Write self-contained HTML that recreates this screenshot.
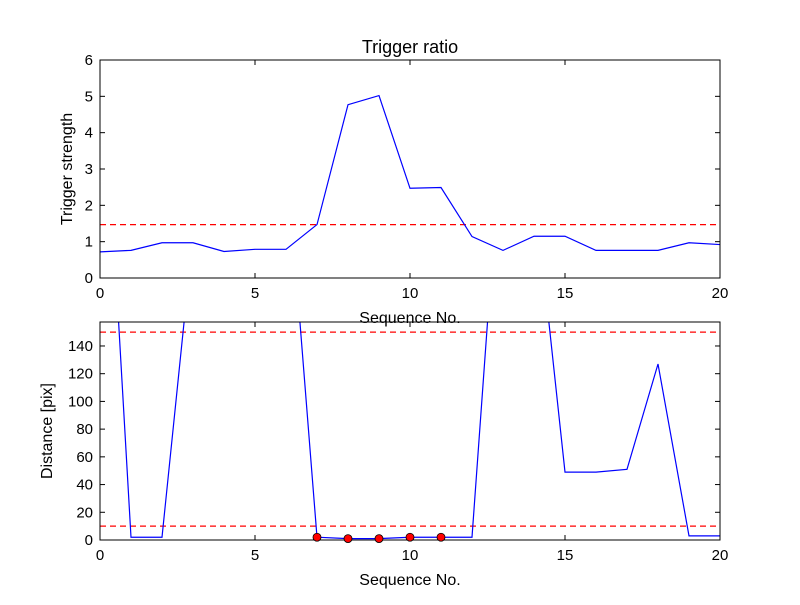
<!DOCTYPE html>
<html><head><meta charset="utf-8"><style>
body{margin:0;background:#fff}
svg text{font-family:"Liberation Sans","DejaVu Sans",sans-serif;fill:#000}
</style></head><body>
<svg id="fig" width="800" height="600" xmlns="http://www.w3.org/2000/svg">
<defs>
<clipPath id="c1"><rect x="100" y="60" width="620" height="218"/></clipPath>
<clipPath id="c2"><rect x="100" y="322" width="620" height="218"/></clipPath>
</defs>
<rect width="800" height="600" fill="#fff"/>
<g id="g1"></g><g id="g2"></g>
</svg>
<script>
const seqX = [0,1,2,3,4,5,6,7,8,9,10,11,12,13,14,15,16,17,18,19,20];
const strength = [0.72,0.76,0.97,0.97,0.73,0.79,0.79,1.47,4.77,5.02,2.47,2.49,1.14,0.76,1.15,1.15,0.76,0.76,0.76,0.97,0.92];
const strengthThreshold = 1.47;
const distance = [390,2,2,220,300,300,284,2,1,1,2,2,2,312,257,49,49,51,127,3,3];
const distThresholds = [10,150];
const hitX = [7,8,9,10,11];
const hitY = [2,1,1,2,2];
const xTicks = [0,5,10,15,20];
const yTicks1 = [0,1,2,3,4,5,6];
const yTicks2 = [0,20,40,60,80,100,120,140];

const NS="http://www.w3.org/2000/svg";
function mk(p,t,a){const e=document.createElementNS(NS,t);for(const k in a)e.setAttribute(k,a[k]);p.appendChild(e);return e;}
function axes(g,top,ymax,yTicks,ys,thr,clip,ylabel,name){
  const L=100,R=720,B=top+218;
  const sx=v=>L+(v-0)/20*620, sy=v=>B-v/ymax*218;
  // threshold lines
  thr.forEach(t=>{const l=mk(g,'line',{x1:L,x2:R,y1:sy(t),y2:sy(t),stroke:'#f00','stroke-width':1.3,'stroke-dasharray':'6,4','clip-path':clip});
    
    });
  const pts=seqX.map((x,i)=>sx(x)+','+sy(ys[i])).join(' ');
  const pl=mk(g,'polyline',{points:pts,fill:'none',stroke:'#00f','stroke-width':1.2,'clip-path':clip});
  
  
  const fr=mk(g,'rect',{x:L,y:top,width:620,height:218,fill:'none',stroke:'#000','stroke-width':1});
  
  
  xTicks.forEach(v=>{const x=sx(v);
    mk(g,'line',{x1:x,x2:x,y1:B,y2:B-5,stroke:'#000'});mk(g,'line',{x1:x,x2:x,y1:top,y2:top+5,stroke:'#000'});
    const t=mk(g,'text',{x:x,y:B+20,'text-anchor':'middle','font-size':15});t.textContent=v;
    
    });
  yTicks.forEach(v=>{const y=sy(v);
    mk(g,'line',{x1:L,x2:L+5,y1:y,y2:y,stroke:'#000'});mk(g,'line',{x1:R,x2:R-5,y1:y,y2:y,stroke:'#000'});
    const t=mk(g,'text',{x:L-7,y:y+5,'text-anchor':'end','font-size':15});t.textContent=v;
    
    });
  const xl=mk(g,'text',{x:410,y:B+45,'text-anchor':'middle','font-size':16});xl.textContent='Sequence No.';
  
  
  const cy=top+109, cx=name==='strength'?72:52;
  const yl=mk(g,'text',{x:cx,y:cy,'text-anchor':'middle','font-size':16,transform:`rotate(-90 ${cx} ${cy})`});yl.textContent=ylabel;
  
  
  return {sx,sy};
}
const g1=document.getElementById('g1'),g2=document.getElementById('g2');
axes(g1,60,6,yTicks1,strength,[strengthThreshold],'url(#c1)','Trigger strength','strength');
const tt=mk(g1,'text',{x:410,y:53,'text-anchor':'middle','font-size':18});tt.textContent='Trigger ratio';


const a2=axes(g2,322,157.3,yTicks2,distance,distThresholds,'url(#c2)','Distance [pix]','distance');
hitX.forEach((x,i)=>{const c=mk(g2,'circle',{cx:a2.sx(x),cy:a2.sy(hitY[i]),r:4,fill:'#f00',stroke:'#000','stroke-width':0.8});
  
  });
</script>
</body></html>
